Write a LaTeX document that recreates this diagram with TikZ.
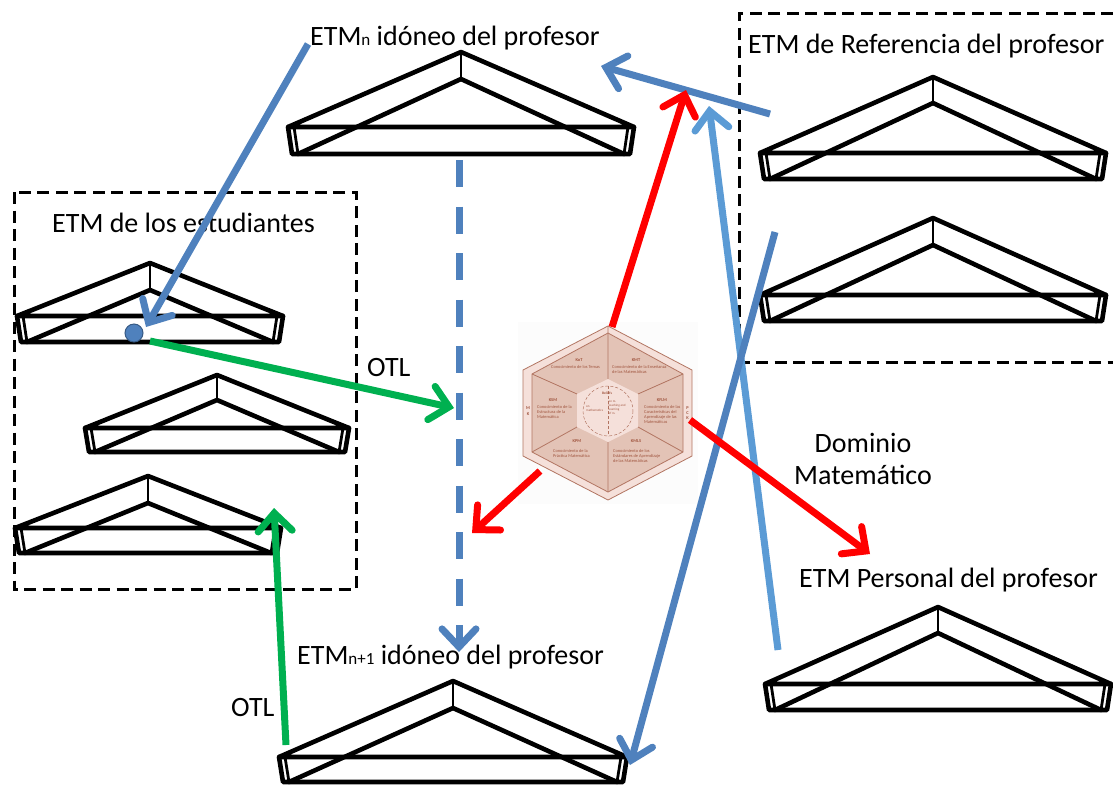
\documentclass[tikz,border=0pt]{standalone}
\usepackage{fontspec}
\setmainfont{Carlito}
\usetikzlibrary{arrows.meta}
\definecolor{bluedark}{HTML}{4F81BD}
\definecolor{bluelight}{HTML}{5B9BD5}
\definecolor{greenarr}{HTML}{00B050}
\definecolor{hexout}{HTML}{F5E0DA}
\definecolor{hexseg}{HTML}{E3C3B6}
\definecolor{hexline}{HTML}{B27562}
\definecolor{hextext}{HTML}{A0553F}
\tikzset{
  prismline/.style={draw=black,line width=4.6pt,line join=round,line cap=round},
  prismthin/.style={draw=black,line width=2.8pt,line cap=round},
  lab/.style={font=\fontsize{28}{30}\selectfont,inner sep=0pt,anchor=base west},
  cen/.style={font=\fontsize{28}{32}\selectfont,inner sep=0pt,align=center},
  boxdash/.style={draw=black,line width=3pt,dash pattern=on 12pt off 6.5pt},
  tip/.style={-{Straight Barb[length=18pt,width=34pt,line width=7pt,line cap=round]}},
  conn/.style={line width=7pt,tip},
  hextx/.style={text=hextext,font=\fontsize{4.4}{5.2}\selectfont,inner sep=0pt,align=left,anchor=north west},
  hexhd/.style={text=hextext,font=\bfseries\fontsize{4.4}{5.2}\selectfont,inner sep=0pt,align=center},
}
% #1 apex x, #2 apex y, #3 half width, #4 top-line drop, #5 inner apex drop, #6 thickness
\newcommand{\prism}[6]{%
  \draw[prismline] (#1-#3,#2+#4) -- (#1,#2) -- (#1+#3,#2+#4) -- cycle;
  \draw[prismline] (#1-#3,#2+#4) -- (#1-#3+4,#2+#4+#6) -- (#1+#3-4,#2+#4+#6) -- (#1+#3,#2+#4);
  \draw[prismline] (#1-#3+10,#2+#4+#6) -- (#1,#2+#5) -- (#1+#3-10,#2+#4+#6);
  \draw[prismthin] (#1,#2) -- (#1,#2+#5);
  \draw[prismthin] (#1-#3+6,#2+#4) -- (#1-#3+10,#2+#4+#6);
  \draw[prismthin] (#1+#3-6,#2+#4) -- (#1+#3-10,#2+#4+#6);
}
\begin{document}
\begin{tikzpicture}[x=1pt,y=-1pt]
\useasboundingbox (0,0) rectangle (1113,785);
% dashed frames
\draw[boxdash] (14,192) rectangle (356,589);
\draw[boxdash] (1113,13) -- (739,13) -- (739,362) -- (1113,362);
% prisms
\prism{461}{52}{173}{75}{27}{27}
\prism{933}{77}{173}{76}{26}{26}
\prism{933}{218}{173}{77}{27}{26}
\prism{150}{263}{133}{53}{27}{26}
\prism{217}{375}{132}{53}{25}{24}
\prism{148}{476}{133}{52}{27}{25}
\prism{938}{607}{173}{77}{26}{26}
\prism{453}{681}{174}{76}{27}{25}
% labels
\node[lab] (lidon) at (310,45) {ETM{\fontsize{17}{17}\selectfont n} idóneo del profesor};
\node[lab] (lref) at (748,53) {ETM de Referencia del profesor};
\node[lab] (lest) at (52,232) {ETM de los estudiantes};
\node[lab] (lotla) at (367,376) {OTL};
\node[lab] (lotlb) at (231,716) {OTL};
\node[cen] (ldom) at (863,459) {Dominio\\Matemático};
\node[lab] (lper) at (799,587) {ETM Personal del profesor};
\node[lab] (lidonb) at (297,664) {ETM{\fontsize{17}{17}\selectfont n+1} idóneo del profesor};
% hexagon
\fill[white!99!black] (518,322) rectangle (698,504);
\draw[hexline,fill=hexout,line width=.8pt] (608,326) -- (692,370) -- (692,456) -- (608,500) -- (523,456) -- (523,370) -- cycle;
\draw[hexline,fill=hexseg,line width=.8pt] (608,333) -- (683,374) -- (683,452) -- (608,492) -- (532,452) -- (532,374) -- cycle;
\draw[hexline,line width=.8pt] (608,326) -- (608,379) (683,374) -- (638,394) (683,452) -- (638,427) (608,442) -- (608,492) (532,452) -- (577,427) (532,374) -- (577,394);
\draw[draw=none,fill=hexout] (608,379) -- (638,394) -- (638,427) -- (608,442) -- (577,427) -- (577,394) -- cycle;
\draw[hexline,densely dashed,line width=.5pt] (608,411) circle (25);
\draw[hexline,densely dashed,line width=.4pt] (608,386) -- (608,436);
\node[hexhd] (hkot) at (579,360) {KoT};
\node[hextx] (hkott) at (551,365) {Conocimiento de los Temas};
\node[hexhd] (hkmt) at (636,360) {KMT};
\node[hextx] (hkmtt) at (612,365) {Conocimiento de la Enseñanza\\de las Matemáticas};
\node[hexhd] (hkfl) at (662,400) {KFLM};
\node[hextx] (hkflt) at (644,405) {Conocimiento de las\\Características del\\Aprendizaje de las\\Matemáticas};
\node[hexhd] (hksm) at (553,400) {KSM};
\node[hextx] (hksmt) at (537,405) {Conocimiento de la\\Estructura de la\\Matemática};
\node[hexhd] (hkpm) at (577,441) {KPM};
\node[hextx] (hkpmt) at (553,449) {Conocimiento de la\\Práctica Matemática};
\node[hexhd] (hkml) at (636,441) {KMLS};
\node[hextx] (hkmlt) at (613,449) {Conocimiento de los\\Estándares de Aprendizaje\\de las Matemáticas};
\node[hexhd,font=\bfseries\fontsize{3.6}{4}\selectfont] (hbel) at (607,393) {Beliefs};
\node[hextx,font=\fontsize{3.2}{3.8}\selectfont] (hon) at (586,406) {on\\mathematics};
\node[hextx,font=\fontsize{3.2}{3.8}\selectfont] (hont) at (608.5,401) {on m.\\teaching and\\learning\\of m.};
\node[hexhd] (hmk) at (528,411) {M\\K};
\node[hexhd] (hpck) at (687.5,413) {P\\C\\K};
% connector ends
\coordinate (a1) at (308,44);   \coordinate (a2) at (146,327);
\coordinate (b1) at (770,114);  \coordinate (b2) at (601,66);
\coordinate (c1) at (778,650);  \coordinate (c2) at (709,106);
\coordinate (d1) at (775,232);  \coordinate (d2) at (630,765);
\coordinate (e1) at (150,341);  \coordinate (e2) at (454,408);
\coordinate (f1) at (286,745);  \coordinate (f2) at (274,508);
\coordinate (g1) at (612,327);  \coordinate (g2) at (686,90);
\coordinate (h1) at (690,420);  \coordinate (h2) at (870,554);
\coordinate (i1) at (540,471);  \coordinate (i2) at (472,533);
\coordinate (j1) at (459,160);  \coordinate (j2) at (459,652);
% connectors
\draw[conn,bluedark,dash pattern=on 27pt off 19.5pt] (j1) -- (j2);
\draw[conn,bluedark] (a1) -- (a2);
\draw[conn,bluelight] (c1) -- (c2);
\draw[conn,bluedark] (b1) -- (b2);
\draw[conn,bluedark] (d1) -- (d2);
\draw[conn,greenarr] (e1) -- (e2);
\draw[conn,greenarr] (f1) -- (f2);
\draw[conn,red] (g1) -- (g2);
\draw[conn,red] (h1) -- (h2);
\draw[conn,red] (i1) -- (i2);
\node[circle,draw=bluedark!70!black,fill=bluedark,line width=1pt,minimum size=18pt,inner sep=0pt] (dot) at (134,333) {};
\end{tikzpicture}
\end{document}
